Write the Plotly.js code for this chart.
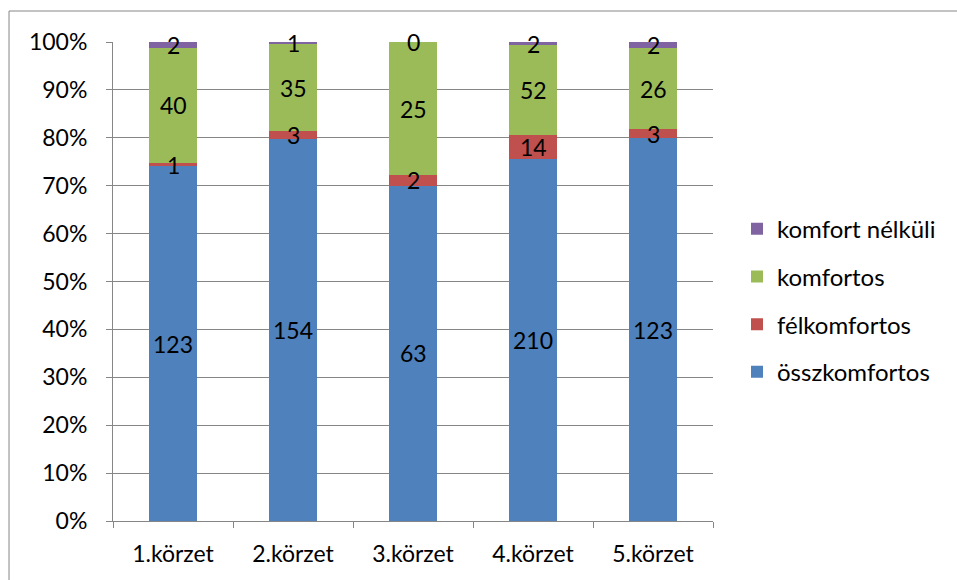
<!DOCTYPE html>
<html><head><meta charset="utf-8">
<script src="https://cdn.plot.ly/plotly-3.0.1.min.js"></script>
<style>body{margin:0;background:#fff}#c{width:957px;height:580px}</style>
</head><body><div id="c"></div>
<script>
const categories = ['1.körzet','2.körzet','3.körzet','4.körzet','5.körzet'];
const osszkomfortos = [123,154,63,210,123];
const felkomfortos = [1,3,2,14,3];
const komfortos = [40,35,25,52,26];
const komfortNelkuli = [2,1,0,2,2];
const seriesNames = ['összkomfortos','félkomfortos','komfortos','komfort nélküli'];
const seriesColors = ['#4F81BD','#C0504D','#9BBB59','#8064A2'];
const seriesData = [osszkomfortos, felkomfortos, komfortos, komfortNelkuli];

const FF = 'Lato, "Open Sans", sans-serif';
const font = {family:FF, size:23, color:'#000'};
const traces = seriesData.map((d,i)=>({
  type:'bar', x:categories, y:d, name:seriesNames[i], legendgroup:seriesNames[i],
  legendrank: 100 - i,
  marker:{color:seriesColors[i], line:{width:0}}, hoverinfo:'none'
}));

// data labels centred in each (normalised) segment
const annotations = [];
categories.forEach((c,j)=>{
  const total = seriesData.reduce((s,d)=>s+d[j],0);
  let base = 0;
  seriesData.forEach(d=>{
    const pct = d[j]/total*100;
    annotations.push({x:c, y:base+pct/2, xref:'x', yref:'y', text:String(d[j]),
      showarrow:false, font:font, xanchor:'center', yanchor:'middle'});
    base += pct;
  });
});

const layout = {
  width:957, height:580,
  margin:{l:113, r:244, t:42, b:59},
  barmode:'stack', barnorm:'percent', bargap:0.6,
  paper_bgcolor:'#fff', plot_bgcolor:'#fff',
  font:font, showlegend:true,
  legend:{x:1.04, y:0.46, yanchor:'middle', xanchor:'left', traceorder:'grouped',
    font:{family:FF, size:24, color:'#000'}, itemwidth:30, tracegroupgap:13.5,
    bgcolor:'rgba(0,0,0,0)'},
  xaxis:{showgrid:false, showline:true, linecolor:'#868686', linewidth:1,
    ticks:'outside', tickson:'boundaries', ticklen:6, tickcolor:'#868686',
    tickfont:font, ticklabelstandoff:12, fixedrange:true},
  yaxis:{range:[0,100], dtick:10, ticksuffix:'%', showgrid:true, gridcolor:'#868686',
    showline:true, linecolor:'#868686', ticks:'outside', ticklen:6, tickcolor:'#868686',
    tickfont:font, ticklabelstandoff:14, zeroline:false, fixedrange:true},
  annotations:annotations,
  shapes:[{type:'rect', xref:'paper', yref:'paper', x0:-0.1733, x1:2, y0:-1, y1:1.0647,
    line:{color:'#868686', width:1}, fillcolor:'rgba(0,0,0,0)', layer:'below'}]
};
Plotly.newPlot('c', traces, layout, {displayModeBar:false, staticPlot:true});
</script></body></html>
